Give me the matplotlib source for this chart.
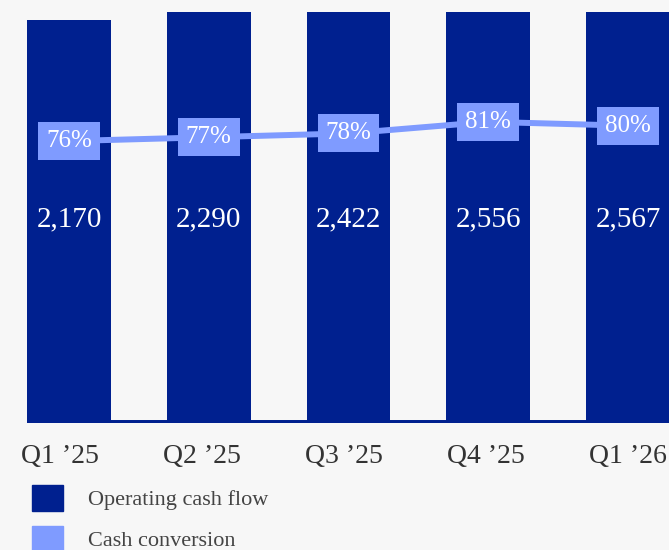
import matplotlib
matplotlib.use("Agg")
import matplotlib.pyplot as plt
from matplotlib.patches import Patch
import numpy as np

quarters = ["Q1 \u201925", "Q2 \u201925", "Q3 \u201925", "Q4 \u201925", "Q1 \u201926"]
operating_cash_flow = [2170, 2290, 2422, 2556, 2567]
cash_conversion = [76, 77, 78, 81, 80]

navy = "#00208F"
light = "#7F9BFF"
bg = "#F7F7F7"
text_col = "#333333"

plt.rcParams["font.family"] = ["Liberation Serif", "DejaVu Serif"]

fig = plt.figure(figsize=(6.69, 5.5), dpi=100, facecolor=bg)
ax = fig.add_axes([0, 127 / 550, 1, 411 / 550])
ax.set_facecolor(bg)

x = np.arange(len(quarters))
width = 0.6
ax.bar(x, operating_cash_flow, width=width, color=navy, zorder=2)
ax.set_xlim(-0.494, 4.293)
ax.set_ylim(0, 2213)

# baseline running from the first bar to the right edge
ax.hlines(0, x[0] - width / 2, 4.293, color=navy, linewidth=4.3, zorder=3)

for xi, v in zip(x, operating_cash_flow):
    ax.text(xi, 0.495, f"{v:,}", transform=ax.get_xaxis_transform(),
            ha="center", va="center", color="white", fontsize=21, zorder=5)

ax.set_xticks([])
ax.set_yticks([])
for s in ax.spines.values():
    s.set_visible(False)

# quarter labels sit on their own evenly spaced scale
axl = ax.twiny()
axl.set_xlim(-0.423, 4.292)
axl.xaxis.set_ticks_position("bottom")
axl.set_xticks(x)
axl.set_xticklabels(quarters, fontsize=20, color=text_col)
axl.tick_params(axis="x", length=0, pad=15)
for s in axl.spines.values():
    s.set_visible(False)

# conversion line on its own scale
ax2 = ax.twinx()
ax2.set_ylim(2.6, 109.6)
ax2.set_yticks([])
for s in ax2.spines.values():
    s.set_visible(False)
ax2.plot(x, cash_conversion, color=light, linewidth=4.3, zorder=3,
         solid_capstyle="butt")
for xi, p in zip(x, cash_conversion):
    ax2.text(xi, p, f"{p}%", ha="center", va="center", color="white",
             fontsize=18, zorder=6,
             bbox=dict(boxstyle="square,pad=0.32", fc=light, ec="none"))

handles = [Patch(color=navy, label="Operating cash flow"),
           Patch(color=light, label="Cash conversion")]
leg = fig.legend(handles=handles, loc="upper left",
                 bbox_to_anchor=(32 / 669, 1 - 485 / 550),
                 frameon=False, fontsize=16, borderpad=0, borderaxespad=0,
                 handlelength=1.4, handleheight=1.4, handletextpad=1.1,
                 labelspacing=0.68)
for t in leg.get_texts():
    t.set_color("#444444")

fig.savefig("out.png", dpi=100, facecolor=bg)
